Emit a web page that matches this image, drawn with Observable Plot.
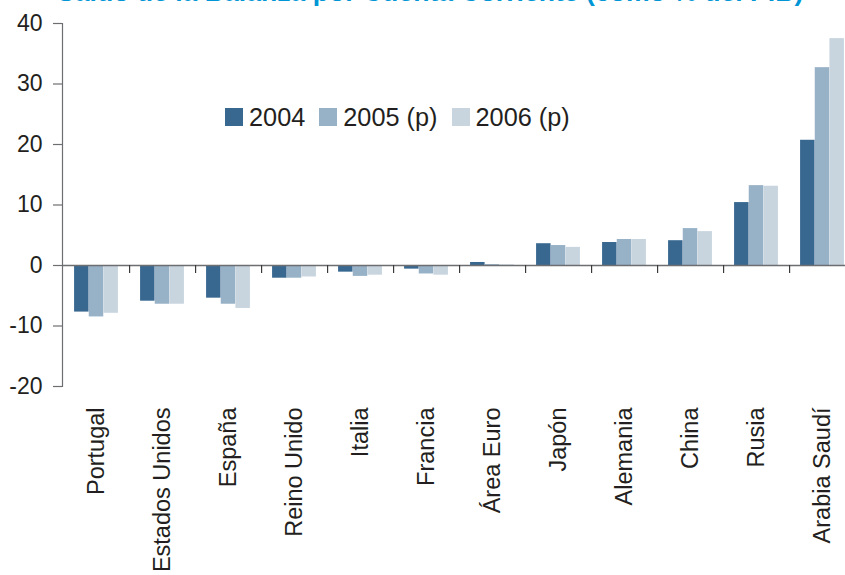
<!DOCTYPE html>
<html>
<head>
<meta charset="utf-8">
<script src="https://cdn.jsdelivr.net/npm/d3@7"></script>
<script src="https://cdn.jsdelivr.net/npm/@observablehq/plot@0.6"></script>
<style>
  body { margin: 0; background: #fff; font-family: "Liberation Sans", Arial, sans-serif; }
  #wrap { position: relative; width: 845px; height: 575px; overflow: hidden; }
  #chart { position: absolute; left: 0; top: 0; }
  #chart svg { max-width: none !important; }
  #title { position: absolute; left: 57px; top: -21px; font-size: 26.6px; font-weight: bold; color: #0096d6; white-space: nowrap; line-height: 1; }
  #legend { position: absolute; left: 225px; top: 108px; display: flex; align-items: center; font-size: 25.3px; color: #231f20; line-height: 18px; }
  .item { display: flex; align-items: center; margin-right: 14px; }
  .sw { width: 18px; height: 18px; margin-right: 6px; }
</style>
</head>
<body>
<div id="wrap">
  <div id="chart"></div>
  <div id="title">Saldo de la Balanza por Cuenta Corriente (como % del PIB)</div>
  <div id="legend"></div>
</div>
<script>
const categories = ["Portugal", "Estados Unidos", "España", "Reino Unido", "Italia", "Francia", "Área Euro", "Japón", "Alemania", "China", "Rusia", "Arabia Saudí"];
const series = ["2004", "2005 (p)", "2006 (p)"];
const v2004 = [-7.7, -5.9, -5.4, -2.1, -1.1, -0.6, 0.5, 3.6, 3.8, 4.1, 10.4, 20.7];
const v2005 = [-8.5, -6.4, -6.4, -2.1, -1.8, -1.4, 0.15, 3.3, 4.3, 6.1, 13.2, 32.7];
const v2006 = [-7.9, -6.4, -7.1, -1.9, -1.6, -1.6, 0.1, 3.0, 4.3, 5.6, 13.1, 37.5];
const colors = ["#386890", "#97b1c6", "#c8d5df"];
const yTicks = [-20, -10, 0, 10, 20, 30, 40];

const values = [v2004, v2005, v2006];
const W = 856, ML = 62;
const bw = (W - ML) / categories.length;
const groupW = 44;
const barW = groupW / 3;
const off = (bw - groupW) / 2;

const barMarks = series.map((s, k) =>
  Plot.barY(categories.map((c, i) => ({cat: c, val: values[k][i]})), {
    x: "cat", y: "val", fill: colors[k],
    insetLeft: off + k * barW, insetRight: bw - off - (k + 1) * barW
  })
);

const chart = Plot.plot({
  width: W, height: 575,
  marginLeft: ML, marginRight: 0, marginTop: 23, marginBottom: 189,
  style: {fontFamily: "'Liberation Sans', Arial, sans-serif", color: "#231f20", background: "transparent", maxWidth: "none"},
  x: {domain: categories, padding: 0, axis: null},
  y: {domain: [-20, 40], axis: null},
  marks: [
    ...barMarks,
    Plot.ruleY([0], {stroke: "#6d6e71", strokeWidth: 1.5}),
    Plot.ruleX(categories, {x: d => d, y1: 0, y2: 0, insetBottom: -8, dx: bw / 2, stroke: "#3a3a3a", strokeWidth: 1.2}),
    Plot.frame({anchor: "left", stroke: "#6d6e71", strokeWidth: 1.2}),
    Plot.axisY(yTicks, {tickSize: 9, tickPadding: 11, tickFormat: d => String(d), fontSize: 23, stroke: "#6d6e71", strokeWidth: 1.2, label: null}),
    Plot.axisX({tickSize: 0, tickRotate: -90, tickPadding: 21, fontSize: 23.5, label: null})
  ]
});
document.getElementById("chart").appendChild(chart);

const legend = document.getElementById("legend");
series.forEach((s, k) => {
  const item = document.createElement("div");
  item.className = "item";
  const sw = document.createElement("div");
  sw.className = "sw";
  sw.style.background = colors[k];
  const t = document.createElement("span");
  t.textContent = s;
  item.appendChild(sw);
  item.appendChild(t);
  legend.appendChild(item);
});
</script>
</body>
</html>
